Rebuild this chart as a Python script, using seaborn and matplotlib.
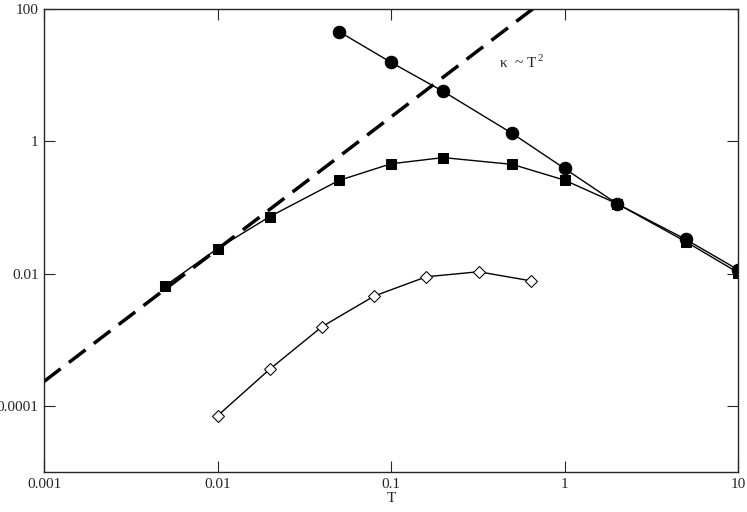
import matplotlib
matplotlib.use("Agg")
import matplotlib.pyplot as plt
import seaborn as sns
import numpy as np
import pandas as pd
from matplotlib.ticker import FixedLocator, FixedFormatter, NullLocator

sns.set_style("ticks")
plt.rcParams['font.family'] = ['Liberation Serif', 'DejaVu Serif']
plt.rcParams['mathtext.fontset'] = 'custom'
plt.rcParams['mathtext.rm'] = 'Liberation Serif'

circ_T = [0.05, 0.1, 0.2, 0.5, 1, 2, 5, 10]
circ_k = [46, 15.7, 5.7, 1.32, 0.39, 0.115, 0.033, 0.0115]
sq_T = [0.005, 0.01, 0.02, 0.05, 0.1, 0.2, 0.5, 1, 2, 5, 10]
sq_k = [0.0066, 0.024, 0.073, 0.257, 0.46, 0.57, 0.45, 0.26, 0.115, 0.0305, 0.0104]
dia_T = [0.01, 0.02, 0.04, 0.08, 0.16, 0.32, 0.64]
dia_k = [7.1e-5, 3.6e-4, 1.58e-3, 4.6e-3, 9.0e-3, 0.0107, 7.8e-3]
fit_T = [0.001, 0.66]
fit_A = 235
xticks = [0.001, 0.01, 0.1, 1, 10]
xlabels = ["0.001", "0.01", "0.1", "1", "10"]
yticks = [1e-4, 1e-2, 1, 100]
ylabels = ["0.0001", "0.01", "1", "100"]

fig, ax = plt.subplots(figsize=(7.47, 5.12), dpi=100)
fig.subplots_adjust(left=0.059, right=0.988, bottom=0.078, top=0.982)

fit = pd.DataFrame({"T": fit_T, "k": [fit_A * t**2 for t in fit_T]})
sns.lineplot(data=fit, x="T", y="k", ax=ax, color="black", lw=2.5, linestyle=(0, (6, 3)))
sns.lineplot(x=circ_T, y=circ_k, ax=ax, color="black", lw=1, marker="o", markersize=9, markeredgecolor="black")
sns.lineplot(x=sq_T, y=sq_k, ax=ax, color="black", lw=1, marker="s", markersize=7, markeredgecolor="black")
sns.lineplot(x=dia_T, y=dia_k, ax=ax, color="black", lw=1, marker="D", markersize=6,
             markerfacecolor="white", markeredgecolor="black")

ax.set_xscale("log"); ax.set_yscale("log")
ax.set_xlim(0.001, 10); ax.set_ylim(1e-5, 100)
ax.xaxis.set_major_locator(FixedLocator(xticks)); ax.xaxis.set_major_formatter(FixedFormatter(xlabels))
ax.yaxis.set_major_locator(FixedLocator(yticks)); ax.yaxis.set_major_formatter(FixedFormatter(ylabels))
ax.xaxis.set_minor_locator(NullLocator()); ax.yaxis.set_minor_locator(NullLocator())
ax.tick_params(direction="in", top=True, right=True, length=8, labelsize=11, pad=4)
for lab in ax.get_xticklabels() + ax.get_yticklabels():
    lab.set_family(['Liberation Serif', 'DejaVu Serif'])
for s in ax.spines.values():
    s.set_visible(True); s.set_linewidth(1)
ax.set_xlabel("T", fontsize=11, labelpad=1)
ax.set_ylabel("κ", fontsize=11, labelpad=2)
ax.text(0.42, 13, r"κ  ~ T$^{\,2}$", fontsize=11)
fig.savefig("out.png", dpi=100)
